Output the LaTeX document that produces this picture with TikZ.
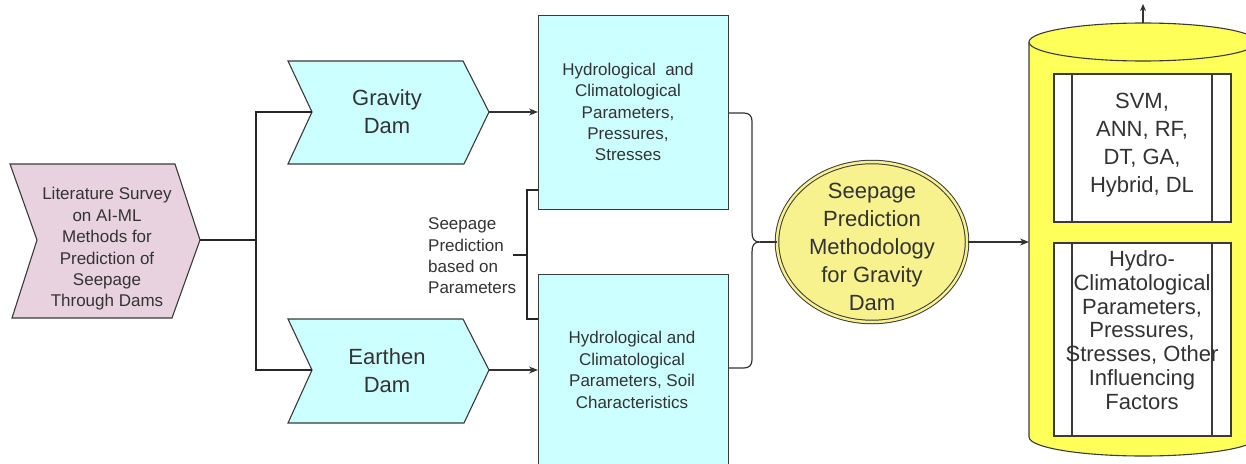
\documentclass[tikz,border=0pt]{standalone}
\usepackage{fontspec}
\setmainfont{Liberation Sans}
\usetikzlibrary{arrows.meta,shapes.geometric}
\definecolor{pinkf}{HTML}{E8D2DF}
\definecolor{cyanf}{HTML}{CCFFFF}
\definecolor{ellf}{HTML}{F7F18E}
\definecolor{cylf}{HTML}{FFFF5A}
\definecolor{txt}{HTML}{333333}
\definecolor{edge}{HTML}{3A3A3A}
\begin{document}
\begin{tikzpicture}[x=1pt,y=-1pt,
  shapeline/.style={draw=edge,line width=1.1pt},
  branch/.style={draw=black!85,line width=2pt},
  thinline/.style={draw=black!80,line width=1.2pt},
  arr/.style={thinline,-{Stealth[length=9pt,width=7pt]}},
  smalltxt/.style={text=txt,align=center,font=\fontsize{17}{21.4}\selectfont,inner sep=0pt},
  bigtxt/.style={text=txt,align=center,font=\fontsize{22}{28}\selectfont,inner sep=0pt},
  boxstyle/.style={shapeline,fill=cyanf,inner sep=0pt,anchor=north west},
  whitebox/.style={shapeline,fill=white}]
\useasboundingbox (0,0) rectangle (1246,463);

% Literature survey chevron
\draw[shapeline,fill=pinkf] (10,164) -- (175,164) -- (200,240) -- (172,318) -- (12,318) -- (37,240) -- cycle;
\coordinate (litTip) at (200,240);
\node[smalltxt] (lit) at (107,249) {Literature Survey\\on AI-ML\\Methods for\\Prediction of\\Seepage\\Through Dams};

% Gravity dam chevron
\draw[shapeline,fill=cyanf] (288,61) -- (463,61) -- (489,112) -- (464,164) -- (288,164) -- (312,112) -- cycle;
\coordinate (gNotch) at (312,112);
\coordinate (gTip) at (489,112);
\node[bigtxt] (grav) at (387,112) {Gravity\\Dam};

% Earthen dam chevron
\draw[shapeline,fill=cyanf] (288,319) -- (463,319) -- (489,370) -- (464,423) -- (288,423) -- (312,370) -- cycle;
\coordinate (eNotch) at (312,370);
\coordinate (eTip) at (489,370);
\node[bigtxt] (earth) at (387,371) {Earthen\\Dam};

% branch from literature survey
\coordinate (junc) at (256,240);
\draw[branch] (litTip) -- (junc);
\draw[branch] (gNotch) -- (256,112) -- (256,370) -- (eNotch);

% parameter boxes
\node[boxstyle,minimum width=190pt,minimum height=194pt] (b1) at (538,15) {};
\node[smalltxt] (b1t) at (628,112) {Hydrological\ \ and\\Climatological\\Parameters,\\Pressures,\\Stresses};
\node[boxstyle,minimum width=190pt,minimum height=210pt] (b2) at (538,274) {};
\node[smalltxt] (b2t) at (632,370) {Hydrological and\\Climatological\\Parameters, Soil\\Characteristics};

\draw[arr] (gTip) -- (b1.west |- gTip);
\draw[arr] (eTip) -- (b2.west |- eTip);

% seepage prediction bracket
\coordinate (brT) at (527,190);
\coordinate (brB) at (527,319);
\coordinate (brM) at (513,255);
\draw[branch] (b1.west |- brT) -- (brT) -- (brB) -- (b2.west |- brB);
\draw[branch] (brM) -- (527,255);
\node[text=txt,align=left,font=\fontsize{17}{21.4}\selectfont,inner sep=0pt,anchor=west] (sp) at (428,256) {Seepage\\Prediction\\based on\\Parameters};

% ellipse
\node[ellipse,draw=edge,line width=1pt,double=ellf,double distance=2.5pt,fill=ellf,minimum width=190pt,minimum height=160pt,inner sep=0pt] (ell) at (872,242) {};
\node[bigtxt] (ellt) at (872,247) {Seepage\\Prediction\\Methodology\\for Gravity\\Dam};

% curly brace
\coordinate (brace) at (760,242);
\draw[thinline] (b1.east |- 0,113) -- (744,113) .. controls (749,113) and (752,116) .. (752,121) -- (752,232)
  .. controls (752,239) and (754,242) .. (brace)
  .. controls (754,242) and (752,245) .. (752,252) -- (752,360)
  .. controls (752,365) and (749,368) .. (744,368) -- (b2.east |- 0,368);
\draw[thinline] (brace) -- (ell.west);

% cylinder
\fill[cylf] (1029,42) rectangle (1257,437);
\fill[cylf] (1143,437) ellipse [x radius=114, y radius=19];
\draw[shapeline] (1029,42) -- (1029,437) .. controls (1029,447.5) and (1080,456) .. (1143,456)
  .. controls (1206,456) and (1257,447.5) .. (1257,437) -- (1257,42);
\draw[shapeline,fill=cylf] (1143,42) ellipse [x radius=114, y radius=19];
\coordinate (cylW) at (1029,242);
\coordinate (cylTop) at (1143,23);
\coordinate (upEnd) at (1143,4);
\draw[arr] (ell.east) -- (cylW);
\draw[thinline,-{Stealth[length=7pt,width=6pt]}] (cylTop) -- (upEnd);

% inner process boxes
\draw[whitebox] (1054,74) rectangle (1231,222);
\draw[shapeline] (1072,74) -- (1072,222) (1212,74) -- (1212,222);
\node[bigtxt] (ml) at (1142,145) {SVM,\\ANN, RF,\\DT, GA,\\Hybrid, DL};
\draw[whitebox] (1054,243) rectangle (1231,436);
\draw[shapeline] (1072,243) -- (1072,436) (1212,243) -- (1212,436);
\node[text=txt,align=center,font=\fontsize{22}{23.8}\selectfont,inner sep=0pt] (hc) at (1142,330) {Hydro-\\Climatological\\Parameters,\\Pressures,\\Stresses, Other\\Influencing\\Factors};
\end{tikzpicture}
\end{document}
